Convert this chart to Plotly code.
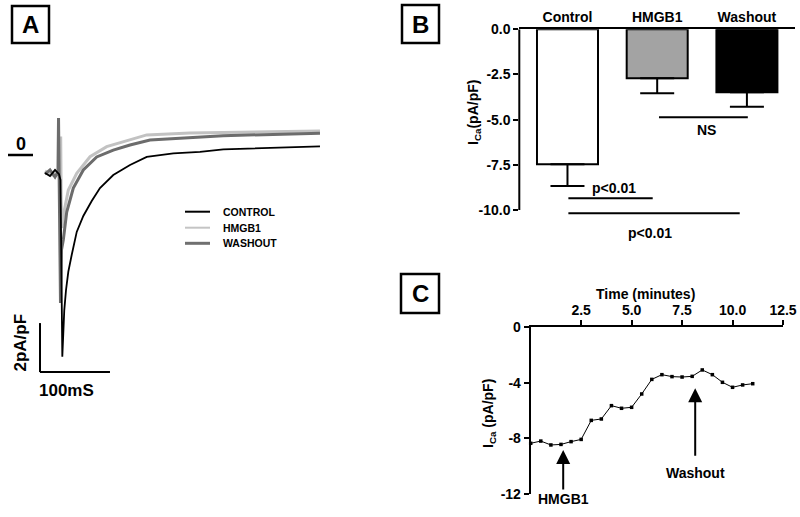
import plotly.graph_objects as go

W, H = 800, 517
FONT = "Liberation Sans"

# ---------------- Panel A data (time in ms, current in pA/pF) ----------------
t_ctrl = [-21.4, -14.3, -7.1, -1.4, 0.7, 3.3, 4.7, 6.1, 8.6, 11.9, 16.7, 23.9, 33.3,
          45.3, 57.1, 76.1, 100, 123.9, 161.9, 200, 233.3, 304.7, 371.4]
i_ctrl = [-0.73, -0.86, -0.61, -0.78, -1.02, -8.23, -7.28, -6.33, -5.51, -4.76, -4.08,
          -3.14, -2.49, -1.88, -1.35, -0.82, -0.41, -0.08, 0.07, 0.13, 0.23, 0.30, 0.35]

t_hmgb1 = [-21.4, -11.4, -1.4, 1.0, 1.7, 2.9, 5.7, 11.9, 23.9, 42.9, 66.7, 100, 123.9,
           185.7, 232.9, 304.3, 371.4]
i_hmgb1 = [-0.65, -0.82, -0.65, 0.75, -1.84, -2.98, -2.33, -1.43, -0.75, -0.07, 0.34,
           0.61, 0.82, 0.90, 0.92, 0.96, 0.98]

t_wash = [-21.4, -14.3, -7.1, -2.9, -2.1, -1.0, 0.7, 2.1, 4.7, 9.6, 19.0, 33.3, 52.4,
          76.1, 100, 128.6, 185.7, 232.9, 304.3, 371.4]
i_wash = [-0.78, -0.61, -0.90, -0.69, 1.51, -0.86, -6.04, -3.88, -3.47, -2.33, -1.35,
          -0.61, -0.08, 0.20, 0.41, 0.61, 0.71, 0.79, 0.84, 0.89]

legend_names = ["CONTROL", "HMGB1", "WASHOUT"]

# ---------------- Panel B data ----------------
categories = ["Control", "HMGB1", "Washout"]
ica_mean = [-7.47, -2.71, -3.49]
ica_sem = [1.20, 0.83, 0.79]
b_ticks = [0, -2.5, -5, -7.5, -10]
b_ticktext = ["0.0", "-2.5", "-5.0", "-7.5", "-10.0"]

# ---------------- Panel C data ----------------
time_min = [0, 0.5, 1.0, 1.5, 2.0, 2.5, 3.0, 3.5, 4.0, 4.5, 5.0, 5.5, 6.0, 6.5, 7.0,
            7.5, 8.0, 8.5, 9.0, 9.5, 10.0, 10.5, 11.0]
ica_time = [-8.35, -8.19, -8.47, -8.43, -8.23, -8.07, -6.70, -6.60, -5.64, -5.83, -5.76,
            -4.80, -3.75, -3.41, -3.55, -3.58, -3.53, -3.07, -3.41, -3.96, -4.32, -4.15, -4.06]
c_xticks = [2.5, 5.0, 7.5, 10.0, 12.5]
c_xticktext = ["2.5", "5.0", "7.5", "10.0", "12.5"]
c_yticks = [0, -4, -8, -12]
c_yticktext = ["0", "-4", "-8", "-12"]


def px(x):
    return x / W


def py(y):
    return 1 - y / H


fig = go.Figure()

# Panel A traces
fig.add_trace(go.Scatter(x=t_hmgb1, y=i_hmgb1, mode="lines", xaxis="x", yaxis="y",
                         line=dict(color="#c2c2c2", width=3), showlegend=False))
fig.add_trace(go.Scatter(x=t_wash, y=i_wash, mode="lines", xaxis="x", yaxis="y",
                         line=dict(color="#6c6c6c", width=3), showlegend=False))
fig.add_trace(go.Scatter(x=t_ctrl, y=i_ctrl, mode="lines", xaxis="x", yaxis="y",
                         line=dict(color="black", width=1.8), showlegend=False))

# Panel B bars
fig.add_trace(go.Bar(x=[0, 1, 2], y=ica_mean, xaxis="x2", yaxis="y2", width=0.68,
                     marker=dict(color=["white", "#a3a3a3", "black"],
                                 line=dict(color="black", width=2)),
                     error_y=dict(type="data", symmetric=False, array=[0, 0, 0],
                                  arrayminus=ica_sem, color="black", thickness=2, width=17),
                     showlegend=False))

# Panel C time course
fig.add_trace(go.Scatter(x=time_min, y=ica_time, mode="lines+markers", xaxis="x3", yaxis="y3",
                         line=dict(color="black", width=1),
                         marker=dict(symbol="square", size=3.5, color="black"),
                         cliponaxis=False, showlegend=False))

bold = dict(family=FONT, size=14, color="black", weight="bold")

shapes = []
annotations = []


def ptext(text, x, y, size=14, angle=0, xanchor="center"):
    annotations.append(dict(text=text, xref="paper", yref="paper", x=px(x), y=py(y),
                            xanchor=xanchor, yanchor="middle", textangle=angle,
                            showarrow=False,
                            font=dict(family=FONT, size=size, color="black", weight="bold")))


# Panel label boxes
for lab, (x0, y0, x1, y1) in {"A": (12, 6, 49, 43), "B": (402, 5, 439, 43),
                               "C": (401, 274, 439, 313)}.items():
    shapes.append(dict(type="rect", xref="paper", yref="paper", x0=px(x0), x1=px(x1),
                       y0=py(y1), y1=py(y0), line=dict(color="black", width=2.5)))
    ptext(lab, (x0 + x1) / 2, (y0 + y1) / 2, size=24)

# Panel A: zero marker, scale bars, legend
ptext("0", 20.5, 144, size=18)
shapes.append(dict(type="line", xref="paper", yref="paper", x0=px(8), x1=px(33),
                   y0=py(155), y1=py(155), line=dict(color="black", width=2.5)))
# scale bars: 100 ms horizontal, 2 pA/pF vertical
shapes.append(dict(type="line", xref="x", yref="y", x0=-28.6, x1=-28.6, y0=-8.86, y1=-6.86,
                   line=dict(color="black", width=2)))
shapes.append(dict(type="line", xref="x", yref="y", x0=-28.6, x1=71.4, y0=-8.86, y1=-8.86,
                   line=dict(color="black", width=2)))
ptext("2pA/pF", 20, 342.5, size=17, angle=-90)
ptext("100mS", 66, 390, size=17)
leg_colors = ["black", "#c4c4c4", "#707070"]
leg_widths = [2, 2, 3]
for k, (name, yy) in enumerate(zip(legend_names, [211.7, 227.7, 243.3])):
    shapes.append(dict(type="line", xref="paper", yref="paper", x0=px(185), x1=px(210),
                       y0=py(yy), y1=py(yy), line=dict(color=leg_colors[k], width=leg_widths[k])))
    ptext(name, 220.5, yy, size=10.5, xanchor="left")

# Panel B: y axis line (0 to -10), significance bars, labels
shapes.append(dict(type="line", xref="x2 domain", yref="y2", x0=0, x1=0, y0=0, y1=-10,
                   line=dict(color="black", width=2)))
for (xa, xb, yv) in [(1.02, 2.01, -4.87), (0.01, 0.95, -9.35), (0.01, 1.92, -10.18)]:
    shapes.append(dict(type="line", xref="x2", yref="y2", x0=xa, x1=xb, y0=yv, y1=yv,
                       line=dict(color="black", width=2)))
for (txt, xv, yv) in [("NS", 1.55, -5.57), ("p&lt;0.01", 0.52, -8.77), ("p&lt;0.01", 0.92, -11.29)]:
    annotations.append(dict(text=txt, xref="x2", yref="y2", x=xv, y=yv, showarrow=False,
                            xanchor="center", yanchor="middle", font=bold))
ptext("I<sub>Ca</sub>(pA/pF)", 474, 113, angle=-90)

# Panel C: titles and arrows
ptext("Time (minutes)", 645, 294)
ptext("I<sub>Ca</sub> (pA/pF)", 489, 413, angle=-90)
annotations.append(dict(text="HMGB1", xref="x3", yref="y3", x=1.61, y=-8.83, ax=0, ay=49,
                        showarrow=True, arrowhead=2, arrowsize=1.4, arrowwidth=2,
                        arrowcolor="black", font=bold))
annotations.append(dict(text="Washout", xref="x3", yref="y3", x=8.15, y=-4.39, ax=0, ay=85,
                        showarrow=True, arrowhead=2, arrowsize=1.4, arrowwidth=2,
                        startstandoff=8, arrowcolor="black", font=bold))

axis_common = dict(showgrid=False, zeroline=False, linecolor="black", tickcolor="black",
                   tickfont=bold, automargin=False)

fig.update_layout(
    width=W, height=H, margin=dict(l=0, r=0, t=0, b=0, autoexpand=False),
    paper_bgcolor="white", plot_bgcolor="rgba(0,0,0,0)",
    font=dict(family=FONT, color="black"),
    showlegend=False,
    xaxis=dict(domain=[0, 0.45], range=[-85.71, 428.57], visible=False, automargin=False),
    yaxis=dict(domain=[0, 1], range=[-14.776, 6.327], visible=False, automargin=False),
    xaxis2=dict(domain=[px(519.3), px(795)], range=[-0.537, 2.536], anchor="y2", side="top",
                showline=True, linewidth=2, ticks="", tickvals=[0, 1, 2], ticktext=categories,
                **axis_common),
    yaxis2=dict(domain=[py(246.1), py(29.3)], range=[-12, 0], anchor="x2", showline=False,
                ticks="outside", ticklen=5, tickwidth=2, tickvals=b_ticks, ticktext=b_ticktext,
                **axis_common),
    xaxis3=dict(domain=[px(530.7), px(783)], range=[0, 12.5], anchor="y3", side="top",
                showline=True, linewidth=2, ticks="outside", ticklen=5, tickwidth=2,
                tickvals=c_xticks, ticktext=c_xticktext, **axis_common),
    yaxis3=dict(domain=[py(494), py(327.3)], range=[-12, 0], anchor="x3", showline=True,
                linewidth=2, ticks="outside", ticklen=5, tickwidth=2, tickvals=c_yticks,
                ticktext=c_yticktext, **axis_common),
    shapes=shapes,
    annotations=annotations,
)

fig.write_html("out.html", config={"displayModeBar": False},
               post_script="document.body.style.margin='0px';document.body.style.padding='0px';"
                           "document.body.style.overflow='hidden';")
